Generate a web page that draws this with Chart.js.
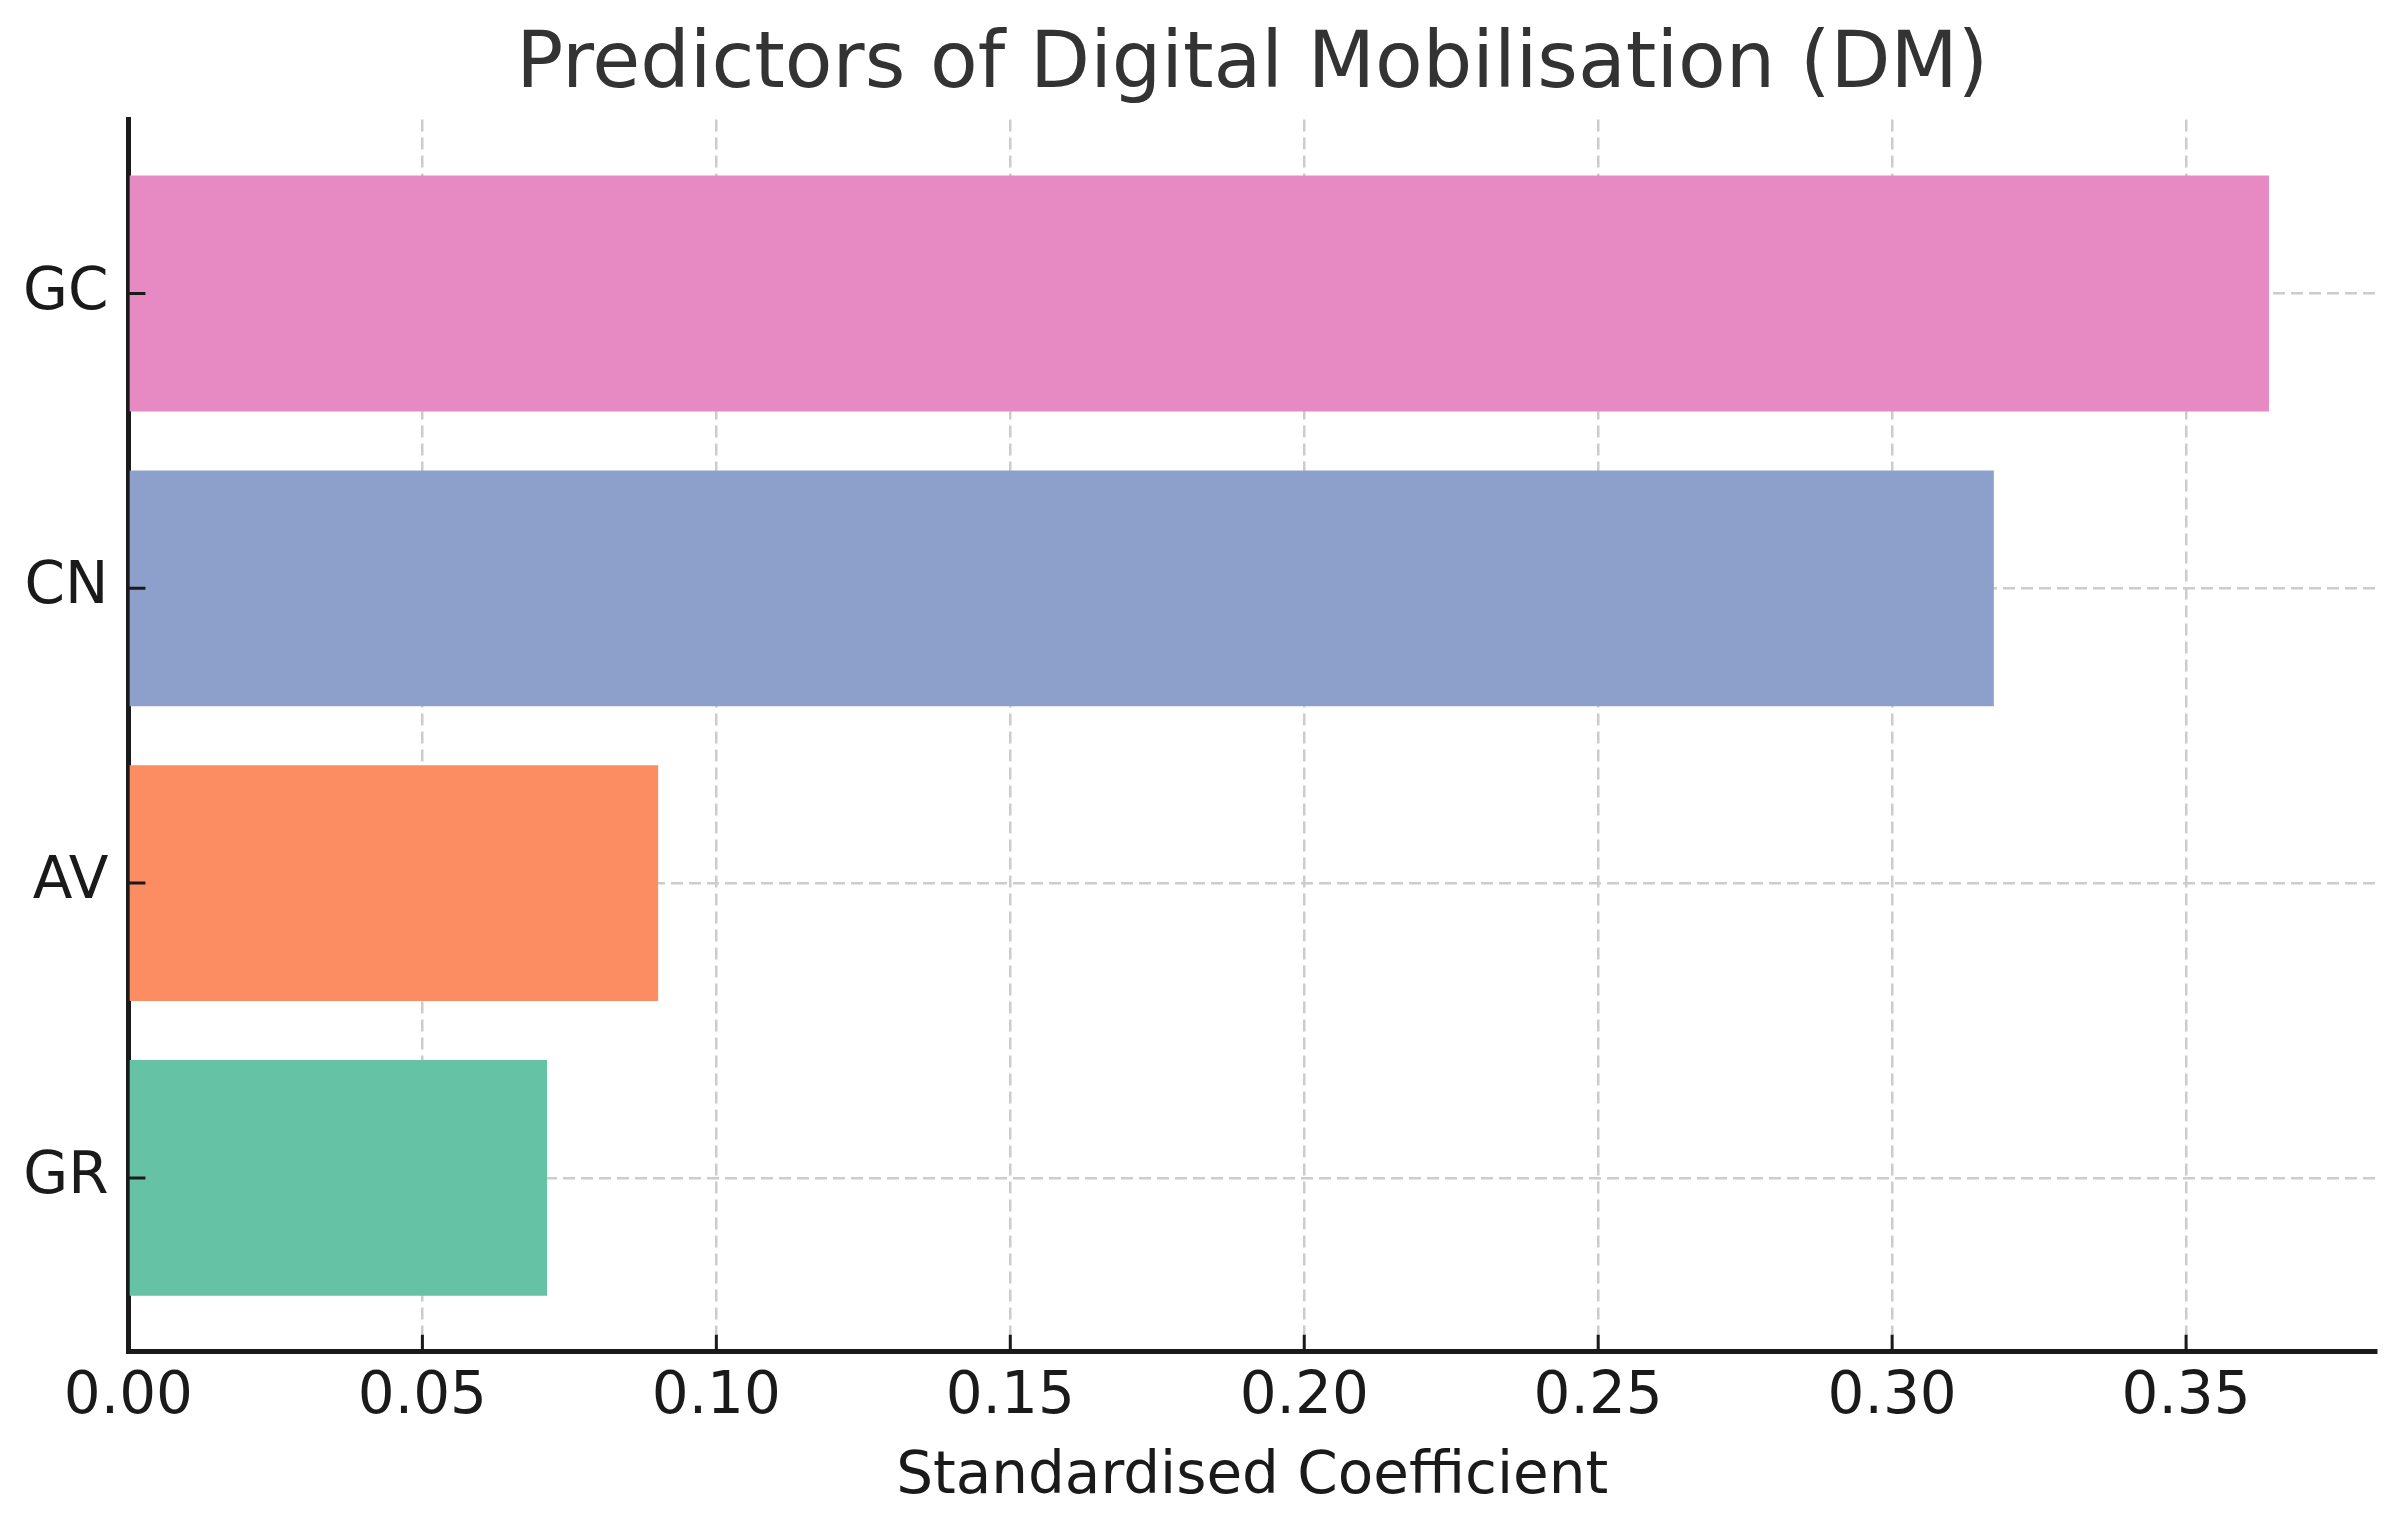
<!DOCTYPE html>
<html>
<head>
<meta charset="utf-8">
<title>Predictors of Digital Mobilisation (DM)</title>
<script src="https://cdn.jsdelivr.net/npm/chart.js@4.4.1/dist/chart.umd.min.js"></script>
<style>
  html, body { margin: 0; padding: 0; background: #ffffff; }
  #wrap { width: 2396px; height: 1519px; }
</style>
</head>
<body>
<div id="wrap"><canvas id="chartDM" width="2396" height="1519"></canvas></div>
<script>
// datos de la gráfica (de abajo hacia arriba, como en el original)
const predictores = ['GR', 'AV', 'CN', 'GC'];
const coeficientes = [0.0712, 0.0901, 0.3173, 0.3641];
const colores = ['#66c2a5', '#fc8d62', '#8da0cb', '#e78ac3'];
const ticksX = [0, 0.05, 0.10, 0.15, 0.20, 0.25, 0.30, 0.35];

const FUENTE = "'DejaVu Sans', sans-serif";
const maxX = Math.max(...coeficientes) * 1.05;

// marcas de los ejes hacia dentro (estilo matplotlib)
const marcasInternas = {
    id: 'marcasInternas',
    afterDraw(chart) {
        const { ctx, chartArea } = chart;
        const sx = chart.scales.x, sy = chart.scales.y;
        ctx.save();
        ctx.strokeStyle = '#1a1a1a';
        ctx.lineWidth = 3;
        ctx.beginPath();
        sx.ticks.forEach(t => {
            const px = sx.getPixelForValue(t.value);
            ctx.moveTo(px, chartArea.bottom);
            ctx.lineTo(px, chartArea.bottom - 17);
        });
        sy.ticks.forEach(t => {
            const py = sy.getPixelForValue(t.value);
            ctx.moveTo(chartArea.left, py);
            ctx.lineTo(chartArea.left + 17, py);
        });
        ctx.stroke();
        ctx.restore();
    }
};

const ctx = document.getElementById('chartDM').getContext('2d');
new Chart(ctx, {
    type: 'bar',
    data: {
        datasets: [{
            label: 'Standardised Coefficient',
            data: predictores.map((p, i) => ({ x: coeficientes[i], y: i })),
            backgroundColor: colores,
            borderWidth: 0,
            barPercentage: 0.8,
            categoryPercentage: 1.0
        }]
    },
    options: {
        indexAxis: 'y',
        responsive: false,
        devicePixelRatio: 1,
        animation: false,
        layout: { padding: { left: 3, right: 20, top: 8, bottom: 6 } },
        plugins: {
            legend: { display: false },
            tooltip: { enabled: false },
            title: {
                display: true,
                fullSize: false,
                text: 'Predictors of Digital Mobilisation (DM)',
                color: '#333333',
                font: { family: FUENTE, size: 78, weight: 'normal' },
                padding: { top: 12, bottom: 6 }
            }
        },
        scales: {
            x: {
                type: 'linear',
                min: 0,
                max: maxX,
                z: 1,
                afterBuildTicks: (axis) => {
                    axis.ticks = ticksX.map(v => ({ value: v }));
                },
                ticks: {
                    color: '#1a1a1a',
                    padding: 11,
                    maxRotation: 0,
                    font: { family: FUENTE, size: 58 },
                    callback: (v) => Number(v).toFixed(2)
                },
                grid: {
                    display: true,
                    drawTicks: false,
                    color: '#cccccc',
                    lineWidth: 2.5
                },
                border: { display: true, color: '#1a1a1a', width: 5, dash: [12, 6] },
                title: {
                    display: true,
                    text: 'Standardised Coefficient',
                    color: '#1a1a1a',
                    font: { family: FUENTE, size: 58 },
                    padding: { top: 0, bottom: 0 }
                }
            },
            y: {
                type: 'linear',
                min: -0.59,
                max: 3.59,
                offset: false,
                z: 1,
                afterBuildTicks: (axis) => {
                    axis.ticks = predictores.map((_, i) => ({ value: i }));
                },
                ticks: {
                    color: '#1a1a1a',
                    padding: 20,
                    font: { family: FUENTE, size: 58 },
                    callback: (v) => predictores[v]
                },
                grid: {
                    display: true,
                    offset: false,
                    drawTicks: false,
                    color: '#cccccc',
                    lineWidth: 2.5
                },
                border: { display: true, color: '#1a1a1a', width: 5, dash: [12, 6] }
            }
        }
    },
    plugins: [marcasInternas]
});
</script>
</body>
</html>
